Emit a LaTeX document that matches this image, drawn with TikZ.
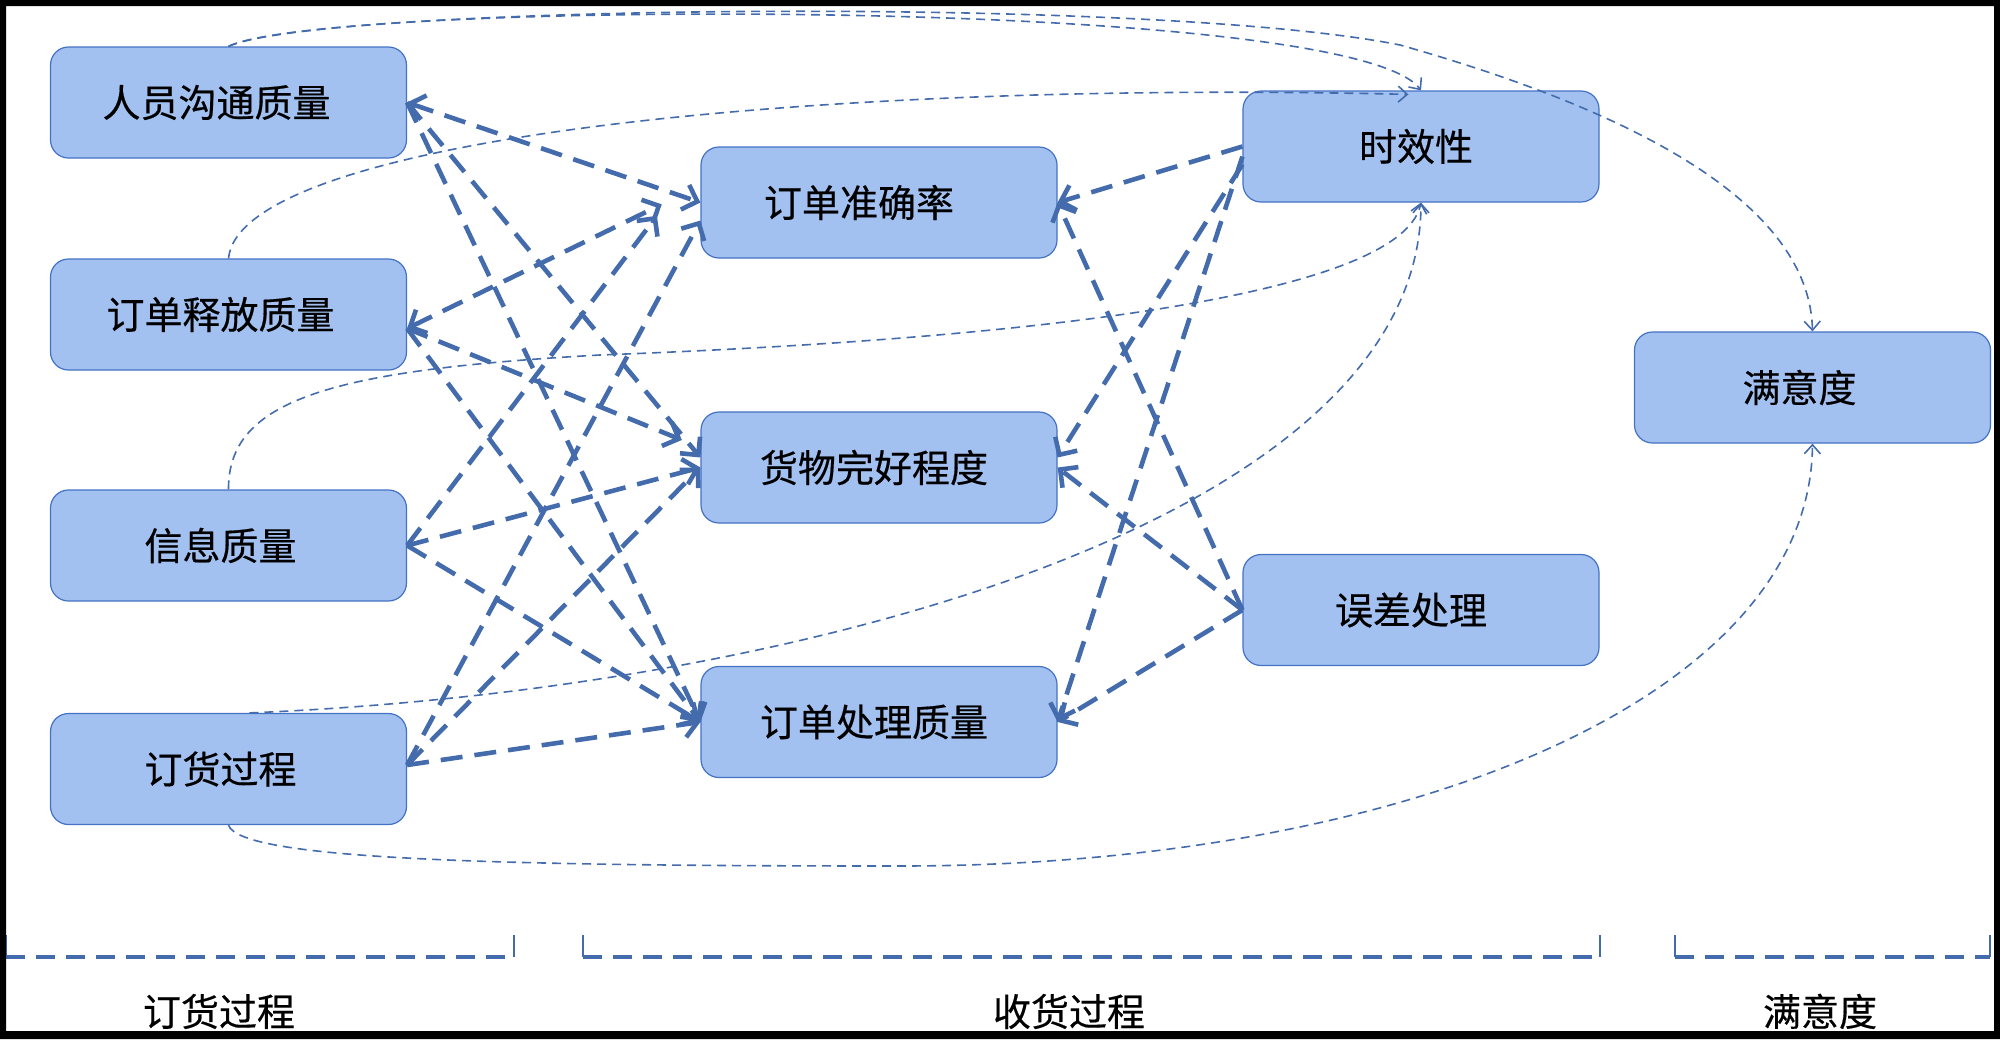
\documentclass[tikz,border=0pt]{standalone}
\usepackage{fontspec}
\setmainfont{Noto Sans CJK SC}
\newfontfamily\boxfont{Noto Sans CJK SC}[FakeBold=0.4]
\usetikzlibrary{calc, arrows.meta}

\definecolor{boxfill}{RGB}{162,192,240}
\definecolor{boxline}{RGB}{68,114,196}
\definecolor{linkcol}{RGB}{68,108,172}

\tikzset{
  >={Straight Barb[length=13pt,width=26pt]},
  box/.style={draw=boxline, line width=1.2pt, fill=boxfill, rounded corners=18pt,
    minimum width=356pt, minimum height=111pt, inner sep=0pt,
    font=\boxfont\fontsize{38}{40}\selectfont},
  strong/.style={linkcol, line width=4.6pt, dash pattern=on 22pt off 12pt, ->},
  weak/.style={linkcol, line width=1.6pt, dash pattern=on 9pt off 6pt,
    -{Straight Barb[length=9pt,width=16pt]}},
  stagelabel/.style={anchor=base, font=\boxfont\fontsize{38}{40}\selectfont},
}

\begin{document}
\begin{tikzpicture}[x=1pt, y=-1pt]
  \useasboundingbox (0,0) rectangle (2000,1039);

  % left column
  \node[box] (A) at (228.5,102.5) {人员沟通质量\hspace*{24pt}};
  \node[box] (B) at (228.5,314.5) {订单释放质量\hspace*{16pt}};
  \node[box] (C) at (228.5,545.5) {信息质量\hspace*{16pt}};
  \node[box] (D) at (228.5,769) {订货过程\hspace*{16pt}};
  % middle column
  \node[box] (E) at (879,202.5) {订单准确率\hspace*{40pt}};
  \node[box] (F) at (879,467.5) {货物完好程度\hspace*{10pt}};
  \node[box] (G) at (879,722) {订单处理质量\hspace*{10pt}};
  % right column
  \node[box] (H) at (1421,146.5) {时效性\hspace*{10pt}};
  \node[box] (I) at (1421,610) {误差处理\hspace*{20pt}};
  \node[box] (J) at (1812.5,387.5) {满意度\hspace*{26pt}};

  % left to middle
  \draw[strong, <->] (A.east) -- (E.west);
  \draw[strong] (A.east) -- ($(F.west)+(0,-10)$);
  \draw[strong] (A.east) -- (G.west);
  \draw[strong, <->, shorten >=43pt] ($(B.east)+(0,14)$) -- ($(E.west)+(0,-17)$);
  \draw[strong, shorten >=20pt] ($(B.east)+(0,14)$) -- ($(F.west)+(0,-20)$);
  \draw[strong] ($(B.east)+(0,14)$) -- (G.west);
  \draw[strong, shorten >=72pt] (C.east) -- ($(E.north west)+(0,12)$);
  \draw[strong] (C.east) -- (F.west);
  \draw[strong] (C.east) -- (G.west);
  \draw[strong] ($(D.east)+(0,-4)$) -- ($(E.west)+(0,18)$);
  \draw[strong] ($(D.east)+(0,-4)$) -- (F.west);
  \draw[strong] ($(D.east)+(0,-4)$) -- (G.west);

  % right to middle
  \draw[strong] (H.west) -- (E.east);
  \draw[strong] ($(H.west)+(0,18)$) -- ($(F.east)+(0,-10)$);
  \draw[strong] ($(H.west)+(0,10)$) -- (G.east);
  \draw[strong] (I.west) -- (E.east);
  \draw[strong] (I.west) -- (F.east);
  \draw[strong] (I.west) -- (G.east);

  % long links
  \coordinate (dtop) at ($(D.north)+(21,0)$);
  \draw[weak] (A.north) .. controls (320,0) and (1350,-5) .. (H.north);
  \draw[weak] (A.north) .. controls (320,5) and (1150,-5) .. (1400,45)
    .. controls (1700,130) and (1810,230) .. (J.north);
  \draw[weak] (B.north) .. controls (240,140) and (800,80) .. ($(H.north west)+(166,4)$);
  \draw[weak] (C.north) .. controls (228,400) and (330,370) .. (600,355)
    .. controls (1000,340) and (1400,300) .. (H.south);
  \draw[weak] (dtop) .. controls (800,690) and (1420,520) .. (H.south);
  \draw[weak] (D.south) .. controls (240,860) and (500,866) .. (900,866)
    .. controls (1400,866) and (1810,700) .. (J.south);

  % stages
  \foreach \xa/\xb in {6/514, 583/1600, 1675/1990} {
    \draw[linkcol, line width=2.5pt] (\xa,935) -- (\xa,957);
    \draw[linkcol, line width=2.5pt] (\xb,935) -- (\xb,957);
    \draw[linkcol, line width=4.5pt, dash pattern=on 19pt off 11pt] (\xa,957) -- (\xb,957);
  }
  \node[stagelabel] (s1) at (219,1026) {订货过程};
  \node[stagelabel] (s2) at (1069,1026) {收货过程};
  \node[stagelabel] (s3) at (1820,1026) {满意度};

  % frame
  \fill[black, even odd rule] (0,0) rectangle (2000,1039) (6,6) rectangle (1994,1031);
\end{tikzpicture}
\end{document}
